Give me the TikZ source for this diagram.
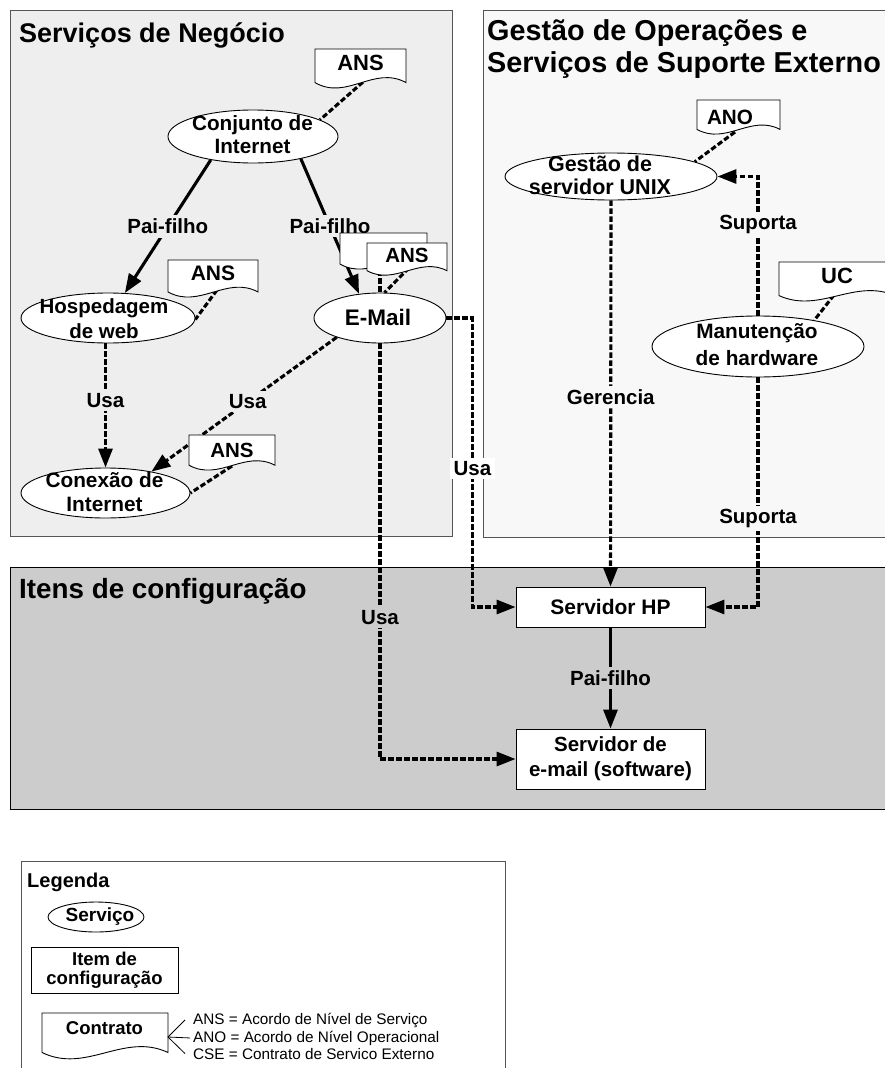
\documentclass[tikz,border=0pt]{standalone}
\usepackage{fontspec}
\setmainfont{Liberation Sans}
\usetikzlibrary{arrows.meta,calc,shapes.geometric}

\pgfdeclarelayer{panels}
\pgfdeclarelayer{links}
\pgfsetlayers{panels,links,main}

\definecolor{paneA}{HTML}{EEEEEE}
\definecolor{paneB}{HTML}{F8F8F8}
\definecolor{paneC}{HTML}{CCCCCC}
\definecolor{rim}{HTML}{555555}

\newcommand\fs[2]{\fontsize{#1}{#2}\selectfont}

% contract document: name, x, y, width, height, text dx, text dy, text, font size
\newcommand\contract[9]{%
  \begin{scope}[shift={(#2,#3)}]
    \draw[docframe] (0,0) -- (#4,0) -- (#4,0.84*#5)
      .. controls (0.65*#4,0.4*#5) and (0.35*#4,1.3*#5) .. (0,0.84*#5) -- cycle;
    \node[doctext, font=\bfseries\fs{#9}{#9}] (#1) at (#6,#7) {#8};
  \end{scope}}

\tikzset{
  panel/.style={draw=rim, line width=1pt},
  svc/.style={ellipse, draw=black, line width=0.9pt, fill=white, inner sep=0pt},
  svctext/.style={align=center, inner sep=0pt},
  ci/.style={rectangle, draw=black, line width=0.9pt, fill=white, inner sep=0pt, align=center},
  doctext/.style={inner sep=0pt},
  docframe/.style={draw=black, line width=0.9pt, fill=white},
  title/.style={anchor=base west, inner sep=0pt, font=\bfseries\fs{#1}{#1}},
  rel/.style={line width=3.1pt, -{Triangle[length=19pt,width=14pt]}},
  uses/.style={rel, dash pattern=on 5.5pt off 2.5pt},
  tie/.style={line width=3.1pt, dash pattern=on 5.5pt off 2.5pt},
  lbl/.style={font=\bfseries\fs{20.5}{22}, inner sep=3.5pt},
  fan/.style={line width=0.8pt},
}

\begin{document}
\begin{tikzpicture}[x=1pt,y=-1pt]
\useasboundingbox (0,0) rectangle (884,1068);

% ---------- panels ----------
\begin{pgfonlayer}{panels}
  \fill[white] (0,0) rectangle (884,1068);
  \filldraw[panel, fill=paneA] (10,10) rectangle (452,536);
  \filldraw[panel, fill=paneB] (483,10) rectangle (900,537);
  \filldraw[panel, draw=black, fill=paneC] (10,567) rectangle (900,809);
  \filldraw[panel, fill=white] (21,861) rectangle (505,1090);
\end{pgfonlayer}

\node[title=27] (t-neg) at (19,42) {Serviços de Negócio};
\node[title=28.8] (t-op1) at (487,40) {Gestão de Operações e};
\node[title=28.8] (t-op2) at (487,72) {Serviços de Suporte Externo};
\node[title=27.8] (t-ci) at (19,598) {Itens de configuração};

% ---------- services ----------
\node[svc, minimum width=170, minimum height=53] (conj) at (253,136.5) {};
\node[svctext, font=\bfseries\fs{20.7}{23}] (conj-t) at (252.5,134.5) {Conjunto de\\Internet};

\node[svc, minimum width=174, minimum height=50] (hosp) at (108,318) {};
\node[svctext, font=\bfseries\fs{20.5}{25}] (hosp-t) at (104,318.5) {Hospedagem\\de web};

\node[svc, minimum width=132, minimum height=50] (email) at (380,318) {};
\node[svctext, font=\bfseries\fs{22.5}{22}] (email-t) at (378,317.5) {E-Mail};

\node[svc, minimum width=169, minimum height=50] (conn) at (105.5,493) {};
\node[svctext, font=\bfseries\fs{20.8}{24}] (conn-t) at (104.5,492) {Conexão de\\Internet};

\node[svc, minimum width=212, minimum height=47] (unix) at (611,176.5) {};
\node[svctext, font=\bfseries\fs{21.5}{23}] (unix-t) at (600,175.5) {Gestão de\\servidor UNIX};

\node[svc, minimum width=212, minimum height=61] (man) at (758,346.5) {};
\node[svctext, font=\bfseries\fs{20.8}{27}] (man-t) at (757,345) {Manutenção\\de hardware};

% ---------- configuration items ----------
\node[ci, minimum width=189, minimum height=40, font=\bfseries\fs{21}{22}] (hp) at (610.5,607) {Servidor HP};
\node[ci, minimum width=189, minimum height=60, font=\bfseries\fs{20.5}{25}] (mail) at (610.5,759) {Servidor de\\e-mail (software)};

% ---------- contracts ----------
\contract{ans1}{315}{49}{91}{40}{45.5}{14}{ANS}{22}
\contract{ans2}{168}{260}{90}{38}{45}{13.5}{ANS}{21}
\contract{ans3}{189}{435}{86}{36}{43}{15}{ANS}{20.5}
\contract{cse}{340}{233}{87}{37}{43.5}{14}{}{20.5}
\contract{ans4}{367}{243}{80}{33}{40}{12}{ANS}{20.5}
\contract{ano}{697}{100}{83}{35}{33}{17.5}{ANO}{20.7}
\contract{uc}{779}{262}{116}{40}{58}{13.5}{UC}{22}

\coordinate (ans1-tie) at (363,82);
\coordinate (ans2-tie) at (217,290);
\coordinate (ans3-tie) at (232,466);
\coordinate (cse-tie) at (380,262);
\coordinate (ans4-tie) at (409,268);
\coordinate (ano-tie) at (735,132);
\coordinate (uc-tie) at (834,295);

% ---------- relations ----------
\begin{pgfonlayer}{links}
  \draw[tie] (ans1-tie) -- (conj.14);
  \draw[tie] (ans2-tie) -- (hosp.-1);
  \draw[tie] (ans3-tie) -- (conn.east);
  \draw[tie] (cse-tie) -- (email.north);
  \draw[tie] (ans4-tie) -- (email.80);
  \draw[tie] (ano-tie) -- (unix.10);
  \draw[tie] (uc-tie) -- (man.25);

  \draw[rel] (conj.209) -- (hosp.56)
    node[lbl, fill=paneA, midway] (l-pf1) {Pai-filho};
  \draw[rel] (conj.335) -- (email.131)
    node[lbl, fill=paneA, midway] (l-pf2) {Pai-filho};
  \draw[uses] (conn.north |- hosp.south) -- (conn.north)
    node[lbl, fill=paneA, pos=0.46] (l-usa1) {Usa};
  \draw[uses] (email.204) -- (conn.25)
    node[lbl, fill=paneA, pos=0.48] (l-usa2) {Usa};
  \draw[uses] (email.east) -- ++(26,0) |- (hp.west)
    node[lbl, fill=white, pos=0.26] (l-usa3) {Usa};
  \draw[uses] (email.south) |- (mail.west)
    node[lbl, fill=paneC, pos=0.33] (l-usa4) {Usa};
  \draw[uses] (unix.south) -- (hp.north)
    node[lbl, fill=paneB, pos=0.51] (l-ger) {Gerencia};
  \draw[uses] (man.north) |- (unix.east)
    node[lbl, fill=paneB, pos=0.327] (l-sup1) {Suporta};
  \draw[uses] (man.south) |- (hp.east)
    node[lbl, fill=paneB, pos=0.307] (l-sup2) {Suporta};
  \draw[rel] (hp.south) -- (mail.north)
    node[lbl, fill=paneC, midway] (l-pf3) {Pai-filho};
\end{pgfonlayer}

% ---------- legend ----------
\node[title=20] (t-leg) at (27,887) {Legenda};
\node[svc, minimum width=96, minimum height=30] (leg-svc) at (96,917) {};
\node[svctext, font=\bfseries\fs{19}{19}] (leg-svc-t) at (100,917) {Serviço};
\node[ci, minimum width=147, minimum height=46, font=\bfseries\fs{18.5}{19}] (leg-ci) at (104.5,970) {Item de\\configuração};
\contract{leg-doc}{42}{1013}{126}{47}{62.5}{15.5}{Contrato}{18.5}
\coordinate (fan) at (168,1037);
\node[anchor=base west, inner sep=0pt, font=\fs{15.3}{16}] (leg-ans) at (193,1024) {ANS = Acordo de Nível de Serviço};
\node[anchor=base west, inner sep=0pt, font=\fs{15.3}{16}] (leg-ano) at (193,1042) {ANO = Acordo de Nível Operacional};
\node[anchor=base west, inner sep=0pt, font=\fs{15.3}{16}] (leg-cse) at (193,1059) {CSE = Contrato de Servico Externo};
\draw[fan] (fan) -- ([xshift=-8pt]leg-ans.west);
\draw[fan] (fan) -- ([xshift=-3pt]leg-ano.west);
\draw[fan] (fan) -- ([xshift=-8pt]leg-cse.west);
\end{tikzpicture}
\end{document}
